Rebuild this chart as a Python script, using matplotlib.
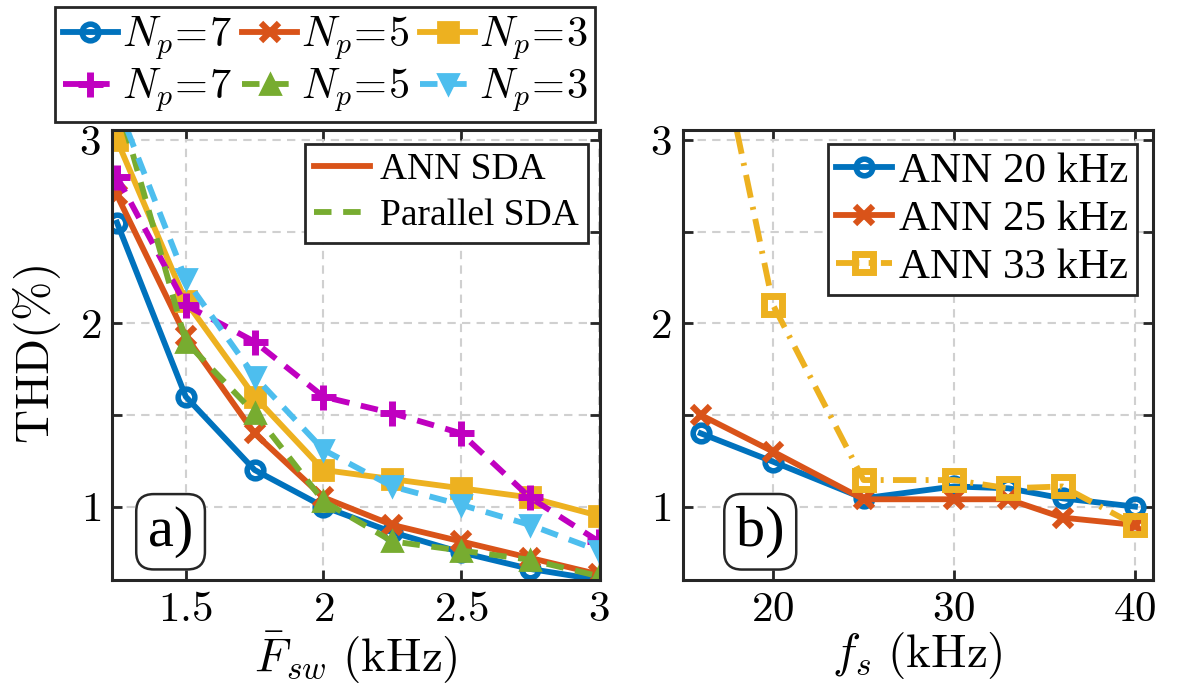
import matplotlib
matplotlib.use("Agg")
import matplotlib.pyplot as plt
from matplotlib.lines import Line2D

plt.rcParams["font.family"] = ["Liberation Serif", "DejaVu Serif"]
plt.rcParams["mathtext.fontset"] = "cm"

# ---- donnees ----
f_sw = [1.25, 1.5, 1.75, 2.0, 2.25, 2.5, 2.75, 3.0]

ann_np7 = [2.55, 1.60, 1.20, 1.00, 0.86, 0.75, 0.66, 0.60]
ann_np5 = [2.70, 1.93, 1.40, 1.05, 0.90, 0.81, 0.72, 0.63]
ann_np3 = [3.00, 2.12, 1.60, 1.20, 1.15, 1.10, 1.05, 0.95]
par_np7 = [2.80, 2.10, 1.90, 1.60, 1.51, 1.40, 1.05, 0.81]
par_np5 = [3.23, 1.90, 1.51, 1.03, 0.81, 0.76, 0.71, 0.62]
par_np3 = [3.20, 2.24, 1.71, 1.31, 1.11, 1.01, 0.90, 0.76]

fs = [16, 20, 25, 30, 33, 36, 40]
ann_20k = [1.40, 1.245, 1.045, 1.11, 1.10, 1.045, 1.00]
ann_25k = [1.50, 1.30, 1.04, 1.04, 1.04, 0.94, 0.90]
ann_33k = [4.00, 2.10, 1.145, 1.145, 1.10, 1.11, 0.90]

xticks_a = [1.5, 2.0, 2.5, 3.0]
xlabels_a = [r"$1.5$", r"$2$", r"$2.5$", r"$3$"]
xticks_b = [20, 30, 40]
xlabels_b = [r"$20$", r"$30$", r"$40$"]
yticks = [1, 1.5, 2, 2.5, 3]
ylabels = [r"$1$", "", r"$2$", "", r"$3$"]

# couleurs matlab
bleu = "#0072BD"
orange = "#D95319"
jaune = "#EDB120"
magenta = "#C000C0"
vert = "#77AC30"
cyan = "#4DBEEE"

LW = 4.2
DASH = (3.0, 2.0)
DASHDOT = (4.0, 1.6, 0.5, 1.6)

fig = plt.figure(figsize=(11.79, 6.92), dpi=100)
ax1 = fig.add_axes([0.095, 0.162, 0.414, 0.650])
ax2 = fig.add_axes([0.579, 0.162, 0.399, 0.650])


def habille(ax):
    ax.set_ylim(0.6, 3.055)
    ax.set_yticks(yticks)
    ax.set_yticklabels(ylabels)
    ax.grid(True, color="#d0d0d0", linestyle=(0, (4, 3)), linewidth=1.5)
    ax.set_axisbelow(True)
    ax.tick_params(direction="in", top=True, right=True, length=7, width=2,
                   labelsize=31, pad=8, color="#262626")
    for s in ax.spines.values():
        s.set_linewidth(2.2)
        s.set_color("#262626")


# ---- panneau a) ----
l7, = ax1.plot(f_sw, ann_np7, "-o", color=bleu, lw=LW, ms=12, mew=4, mfc="none")
l5, = ax1.plot(f_sw, ann_np5, "-x", color=orange, lw=LW, ms=13, mew=4.5)
l3, = ax1.plot(f_sw, ann_np3, "-s", color=jaune, lw=LW, ms=14, mew=2)
p7, = ax1.plot(f_sw, par_np7, "--+", color=magenta, lw=LW, ms=18, mew=5, dashes=DASH)
p5, = ax1.plot(f_sw, par_np5, "--^", color=vert, lw=LW, ms=14, mew=2, dashes=DASH)
p3, = ax1.plot(f_sw, par_np3, "--v", color=cyan, lw=LW, ms=14, mew=2, dashes=DASH)

ax1.set_xlim(1.232, 3.005)
ax1.set_xticks(xticks_a)
ax1.set_xticklabels(xlabels_a)
habille(ax1)
ax1.set_xlabel(r"$\bar{F}_{sw}\ (\mathrm{kHz})$", fontsize=34, labelpad=0)
ax1.set_ylabel(r"$\mathrm{THD}(\%)$", fontsize=34, labelpad=12)

leg_a = ax1.legend(
    [Line2D([], [], color=orange, lw=LW),
     Line2D([], [], color=vert, lw=LW, linestyle="--", dashes=DASH)],
    ["ANN SDA", "Parallel SDA"],
    loc="upper right", bbox_to_anchor=(0.975, 0.97), fontsize=27,
    frameon=True, fancybox=False, edgecolor="#262626", framealpha=1,
    handlelength=1.5, handletextpad=0.25, borderpad=0.25, labelspacing=0.3,
    borderaxespad=0)
leg_a.get_frame().set_linewidth(2)

ax1.text(0.12, 0.107, "a)", transform=ax1.transAxes, fontsize=42,
         ha="center", va="center",
         bbox=dict(boxstyle="round,pad=0.2,rounding_size=0.3", fc="white",
                   ec="#262626", lw=1.8))

# ---- panneau b) ----
ax2.plot(fs, ann_20k, "-o", color=bleu, lw=LW, ms=12, mew=4, mfc="none",
         label="ANN 20 kHz")
ax2.plot(fs, ann_25k, "-x", color=orange, lw=LW, ms=13, mew=4.5,
         label="ANN 25 kHz")
ax2.plot(fs, ann_33k, "-.s", color=jaune, lw=LW, ms=13, mew=5, mfc="none",
         dashes=DASHDOT, label="ANN 33 kHz")
ax2.set_xlim(15.0, 41.0)
ax2.set_xticks(xticks_b)
ax2.set_xticklabels(xlabels_b)
habille(ax2)
ax2.set_xlabel(r"$f_s\ (\mathrm{kHz})$", fontsize=34, labelpad=0)

leg_b = ax2.legend(
    loc="upper right", bbox_to_anchor=(0.965, 0.97), fontsize=31,
    frameon=True, fancybox=False, edgecolor="#262626", framealpha=1,
    handlelength=1.3, handletextpad=0.15, borderpad=0.2, labelspacing=0.2,
    borderaxespad=0)
leg_b.get_frame().set_linewidth(2)

ax2.text(0.165, 0.107, "b)", transform=ax2.transAxes, fontsize=42,
         ha="center", va="center",
         bbox=dict(boxstyle="round,pad=0.2,rounding_size=0.3", fc="white",
                   ec="#262626", lw=1.8))

# ---- legende du haut (Np) ----
leg_top = fig.legend(
    [l7, p7, l5, p5, l3, p3],
    [r"$N_p\!=\!7$", r"$N_p\!=\!7$", r"$N_p\!=\!5$", r"$N_p\!=\!5$",
     r"$N_p\!=\!3$", r"$N_p\!=\!3$"],
    ncol=3, loc="upper left", bbox_to_anchor=(55 / 1179, 1 - 7 / 692),
    fontsize=30.5, frameon=True, fancybox=False, edgecolor="#262626",
    framealpha=1, handlelength=1.3, handletextpad=0.1, columnspacing=0.25,
    borderpad=0.18, labelspacing=0.1, borderaxespad=0)
leg_top.get_frame().set_linewidth(2)

fig.savefig("out.png", dpi=100)
